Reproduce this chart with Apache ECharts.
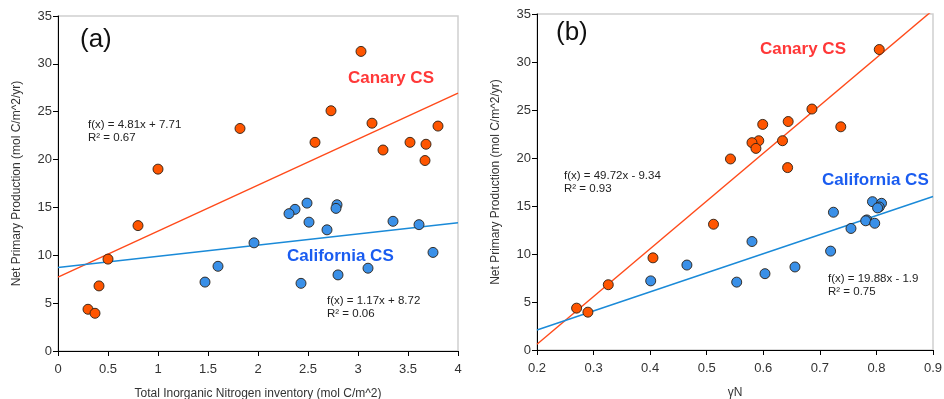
<!DOCTYPE html>
<html>
<head>
<meta charset="utf-8">
<script src="https://cdn.jsdelivr.net/npm/echarts@6/dist/echarts.min.js"></script>
<style>
html,body{margin:0;padding:0;background:#fff;}
#c{width:944px;height:399px;}
</style>
</head>
<body>
<div id="c"></div>
<script>
// ---- Data ----
const canaryNPP   = [31.3, 25.1, 23.8, 23.5, 23.25, 21.8, 21.8, 21.6, 21.0, 19.9, 19.0, 13.1, 9.6, 6.8, 4.36, 3.94];
const canaryTIN   = [3.03, 2.73, 3.14, 3.80, 1.82, 2.57, 3.52, 3.68, 3.25, 3.67, 1.00, 0.80, 0.50, 0.41, 0.30, 0.37];
const canaryGamma = [0.805, 0.686, 0.644, 0.599, 0.737, 0.634, 0.592, 0.580, 0.587, 0.542, 0.643, 0.512, 0.405, 0.326, 0.270, 0.290];

const califNPP   = [15.45, 15.28, 14.9, 14.8, 14.35, 13.55, 13.46, 13.2, 12.66, 11.3, 10.3, 8.85, 8.65, 7.95, 7.2, 7.07];
const califTIN   = [2.49, 2.79, 2.78, 2.37, 2.31, 3.35, 2.51, 3.61, 2.69, 1.96, 3.75, 1.60, 3.10, 2.80, 1.47, 2.43];
const califGamma = [0.793, 0.809, 0.805, 0.802, 0.724, 0.783, 0.781, 0.797, 0.755, 0.580, 0.719, 0.465, 0.656, 0.603, 0.401, 0.553];

// regression line end points (read from the fits shown)
const canaryFitA = [[0, 7.71], [4, 26.95]];
const califFitA  = [[0, 8.72], [4, 13.40]];
const canaryFitB = [[0.2, 0.60], [0.9, 35.41]];
const califFitB  = [[0.2, 2.08], [0.9, 15.99]];

const xTicksA = [0, 4, 0.5];
const xTicksB = [0.2, 0.9, 0.1];
const yTicks  = [0, 35, 5];

const labelsText = {
  a: '(a)', b: '(b)',
  canary: 'Canary CS', calif: 'California CS',
  fitCanA: ['f(x) = 4.81x + 7.71', 'R² = 0.67'],
  fitCalA: ['f(x) = 1.17x + 8.72', 'R² = 0.06'],
  fitCanB: ['f(x) = 49.72x - 9.34', 'R² = 0.93'],
  fitCalB: ['f(x) = 19.88x - 1.9', 'R² = 0.75'],
  yName: 'Net Primary Production (mol C/m^2/yr)',
  xNameA: 'Total Inorganic Nitrogen inventory (mol C/m^2)',
  xNameB: 'γN'
};

// ---- Chart ----
const FONT = 'Liberation Sans, Arial, sans-serif';
const ORANGE = '#ff5500', BLUE = '#3a90e8';
const LINE_OR = '#ff4a1a', LINE_BL = '#1a8ad8';

function zip(xs, ys){ return xs.map((x,i)=>[x, ys[i]]); }

function xAxis(idx, t, name, fmt){
  return {
    type:'value', gridIndex: idx, min:t[0], max:t[1], interval:t[2],
    name:name, nameLocation:'middle', nameGap:37,
    nameTextStyle:{fontFamily:FONT, fontSize:12, color:'#333'},
    axisLine:{show:true, onZero:false, lineStyle:{color:'#000', width:1}},
    axisTick:{show:true, length:5, lineStyle:{color:'#000'}},
    axisLabel:{fontFamily:FONT, fontSize:13, color:'#333', margin:12, formatter:fmt},
    splitLine:{show:false}
  };
}
function yAxis(idx){
  return {
    type:'value', gridIndex: idx, min:yTicks[0], max:yTicks[1], interval:yTicks[2],
    name:labelsText.yName, nameLocation:'middle', nameGap:35,
    nameTextStyle:{fontFamily:FONT, fontSize:12, color:'#333'},
    axisLine:{show:true, onZero:false, lineStyle:{color:'#000', width:1}},
    axisTick:{show:true, length:5, lineStyle:{color:'#000'}},
    axisLabel:{fontFamily:FONT, fontSize:13, color:'#333', margin:6},
    splitLine:{show:false}
  };
}
function scatter(idx, data, color){
  return {
    type:'scatter', xAxisIndex:idx, yAxisIndex:idx, data:data,
    symbol:'circle', symbolSize:10, z:5,
    itemStyle:{color:color, borderColor:'#2a1f14', borderWidth:0.9, opacity:1}
  };
}
function fitLine(idx, data, color){
  return {
    type:'line', xAxisIndex:idx, yAxisIndex:idx, data:data,
    symbol:'none', clip:true, z:3,
    lineStyle:{color:color, width:1.4}
  };
}
function txt(left, top, text, size, color, weight, lh){
  return {type:'text', left:left, top:top, z:10,
    style:{text:text, fontFamily:FONT, fontSize:size, fill:color, fontWeight:weight||'normal', lineHeight:lh||undefined}};
}

const chart = echarts.init(document.getElementById('c'), null, {renderer:'canvas'});
chart.setOption({
  animation:false,
  backgroundColor:'#fff',
  grid:[
    {left:58, right:486, top:16, bottom:48, containLabel:false, outerBoundsMode:'none', show:true, borderColor:'#d0d0d0', borderWidth:1.5, backgroundColor:'transparent'},
    {left:537, right:11, top:14, bottom:49, containLabel:false, outerBoundsMode:'none', show:true, borderColor:'#d0d0d0', borderWidth:1.5, backgroundColor:'transparent'}
  ],
  xAxis:[
    xAxis(0, xTicksA, labelsText.xNameA, v => String(v)),
    xAxis(1, xTicksB, labelsText.xNameB, v => String(+v.toFixed(1)))
  ],
  yAxis:[ yAxis(0), yAxis(1) ],
  series:[
    fitLine(0, canaryFitA, LINE_OR),
    fitLine(0, califFitA, LINE_BL),
    scatter(0, zip(canaryTIN, canaryNPP), ORANGE),
    scatter(0, zip(califTIN, califNPP), BLUE),
    fitLine(1, canaryFitB, LINE_OR),
    fitLine(1, califFitB, LINE_BL),
    scatter(1, zip(canaryGamma, canaryNPP), ORANGE),
    scatter(1, zip(califGamma, califNPP), BLUE)
  ],
  graphic:[
    txt(80, 27, labelsText.a, 26, '#111'),
    txt(556, 20, labelsText.b, 26, '#111'),
    txt(348, 70, labelsText.canary, 17, '#ff3838', 'bold'),
    txt(287, 248, labelsText.calif, 17, '#1a5cf0', 'bold'),
    txt(760, 41, labelsText.canary, 17, '#ff3838', 'bold'),
    txt(822, 172, labelsText.calif, 17, '#1a5cf0', 'bold'),
    txt(88, 118, labelsText.fitCanA.join('\n'), 11.5, '#222', 'normal', 13),
    txt(327, 294, labelsText.fitCalA.join('\n'), 11.5, '#222', 'normal', 13),
    txt(564, 169, labelsText.fitCanB.join('\n'), 11.5, '#222', 'normal', 13),
    txt(828, 272, labelsText.fitCalB.join('\n'), 11.5, '#222', 'normal', 13)
  ]
});
</script>
</body>
</html>
